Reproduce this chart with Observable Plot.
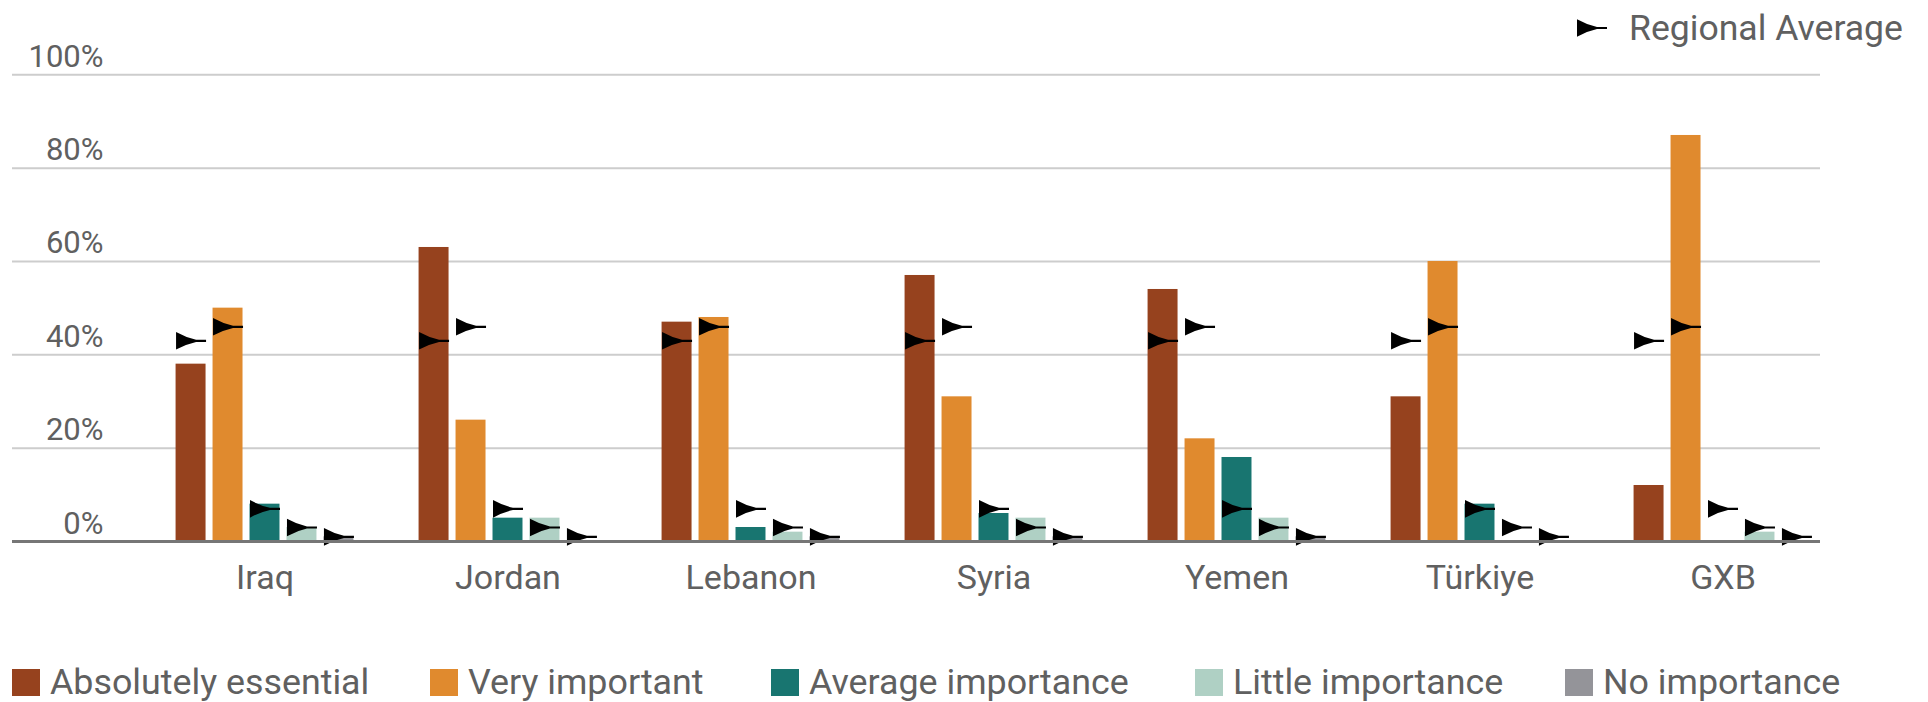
<!DOCTYPE html>
<html>
<head>
<meta charset="utf-8">
<script src="https://cdn.jsdelivr.net/npm/d3@7"></script>
<script src="https://cdn.jsdelivr.net/npm/@observablehq/plot@0.6"></script>
<style>
  html, body { margin: 0; padding: 0; background: #fff; }
  body { width: 1928px; height: 702px; overflow: hidden; font-family: Roboto, "Noto Sans", sans-serif; color: #606060; }
  #wrap { position: relative; width: 1928px; height: 702px; }
  .layer { position: absolute; left: 0; top: 0; }
  .layer svg { background: transparent !important; }
  #toplegend { position: absolute; left: 1576px; top: 6px; height: 44px; display: flex; align-items: center; font-size: 35.6px; }
  #toplegend svg { margin-right: 21px; }
  .item { position: absolute; top: 668px; height: 28px; display: flex; align-items: center; font-size: 35.8px; line-height: 28px; white-space: nowrap; }
  .sw { width: 28px; height: 27px; margin-right: 10px; flex: none; }
</style>
</head>
<body>
<div id="wrap">
  <div id="bg" class="layer"></div>
  <div id="fg" class="layer"></div>
  <div id="base" class="layer"></div>
  <div id="toplegend"></div>
  <div id="legend"></div>
</div>
<script>
// ---------- data ----------
const countries = ["Iraq", "Jordan", "Lebanon", "Syria", "Yemen", "Türkiye", "GXB"];
const levels = ["Absolutely essential", "Very important", "Average importance", "Little importance", "No importance"];
const colors = ["#96421e", "#e08a2e", "#187570", "#afd0c4", "#949499"];

const absolutelyEssential = [38, 63, 47, 57, 54, 31, 12];
const veryImportant       = [50, 26, 48, 31, 22, 60, 87];
const averageImportance   = [8, 5, 3, 6, 18, 8, 0];
const littleImportance    = [3, 5, 2, 5, 5, 0, 2];
const noImportance        = [1, 0, 1, 1, 1, 0, 0];
const regionalAverage     = [43, 46, 7, 3, 1];

const yTicks = [0, 20, 40, 60, 80, 100];
const legendX = [12, 430, 771, 1195, 1565];

const series = [absolutelyEssential, veryImportant, averageImportance, littleImportance, noImportance];
const data = countries.flatMap((c, i) => levels.map((l, j) => ({
  country: c, level: l, value: series[j][i], avg: regionalAverage[j]
})));

// ---------- marker symbol (arrowhead + line) ----------
const arrow = {
  draw(ctx) {
    ctx.moveTo(-15, -8.8);
    ctx.quadraticCurveTo(-5, -3.2, 5, -1.1);
    ctx.lineTo(15, -1.1);
    ctx.lineTo(15, 1.1);
    ctx.lineTo(5, 1.1);
    ctx.quadraticCurveTo(-5, 3.2, -15, 8.8);
    ctx.closePath();
  }
};

const W = 1928, H = 620, MT = 74.3, MB = 79;
const txt = "#606060";
const font = {fontFamily: "Roboto, 'Noto Sans', sans-serif", background: "transparent"};

// background: gridlines + y labels
const bg = Plot.plot({
  width: W, height: H, marginTop: MT, marginBottom: MB, marginLeft: 12, marginRight: 108,
  style: font,
  x: {axis: null},
  y: {domain: [0, 100], axis: null},
  marks: [
    Plot.ruleY(yTicks.filter(d => d > 0), {stroke: "#cdcdcd", strokeWidth: 2}),
    Plot.text(yTicks, {y: d => d, text: d => `${d}%`, frameAnchor: "left", dx: 91, textAnchor: "end",
      lineAnchor: "bottom", dy: -8, fontSize: 31, fill: txt})
  ]
});
document.getElementById("bg").appendChild(bg);

// foreground: bars, regional-average markers, country labels
const fg = Plot.plot({
  width: W, height: H, marginTop: MT, marginBottom: MB, marginLeft: 142.4, marginRight: 83.2,
  style: font,
  fx: {domain: countries, padding: 0, axis: null, label: null},
  x: {domain: levels, paddingInner: 7 / 37, paddingOuter: 0.881, align: 0.5, axis: null, round: false},
  y: {domain: [0, 100], axis: null},
  color: {domain: levels, range: colors},
  marks: [
    Plot.barY(data, {fx: "country", x: "level", y: "value", fill: "level"}),
    Plot.dot(data, {fx: "country", x: "level", y: "avg", symbol: arrow, fill: "black", stroke: "none"}),
    Plot.text(countries, {fx: d => d, text: d => d, frameAnchor: "bottom", lineAnchor: "bottom",
      dy: 47, fontSize: 34, fill: txt})
  ]
});
document.getElementById("fg").appendChild(fg);

// baseline on top
const base = Plot.plot({
  width: W, height: H, marginTop: MT, marginBottom: MB, marginLeft: 12, marginRight: 108,
  style: font,
  x: {axis: null},
  y: {domain: [0, 100], axis: null},
  marks: [Plot.ruleY([0], {stroke: "#767676", strokeWidth: 3})]
});
document.getElementById("base").appendChild(base);

// top legend
const tl = document.getElementById("toplegend");
tl.innerHTML = `<svg width="32" height="20" viewBox="-16 -10 32 20"><path d="M-15,-8.8Q-5,-3.2,5,-1.1L15,-1.1L15,1.1L5,1.1Q-5,3.2,-15,8.8Z" fill="#000"/></svg><span>Regional Average</span>`;

// bottom legend
const lg = document.getElementById("legend");
levels.forEach((l, i) => {
  const it = document.createElement("div");
  it.className = "item";
  it.style.left = legendX[i] + "px";
  it.innerHTML = `<div class="sw" style="background:${colors[i]}"></div><span>${l}</span>`;
  lg.appendChild(it);
});
</script>
</body>
</html>
